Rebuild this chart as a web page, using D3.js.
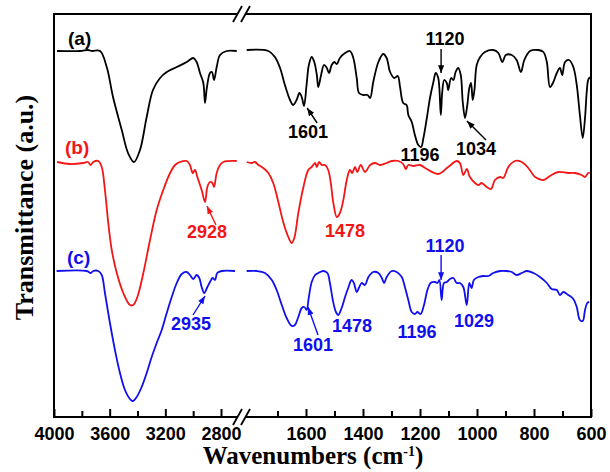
<!DOCTYPE html>
<html>
<head>
<meta charset="utf-8">
<script src="https://cdn.jsdelivr.net/npm/d3@7/dist/d3.min.js"></script>
<style>
  html, body { margin: 0; padding: 0; background: #fff; }
  svg { display: block; }
</style>
</head>
<body>
<div id="chart"></div>
<script>
// FTIR spectra: wavenumber (cm-1) / transmittance (a.u., stacked)
const waveA = [3978, 3813, 3756, 3727, 3669, 3621, 3576, 3513, 3468, 3425, 3382, 3334, 3289, 3238, 3190, 3118, 3046, 2999, 2975, 2951, 2927, 2915, 2901, 2879, 2865, 2850, 2831, 2807, 2759, 2687,
  1808, 1732, 1709, 1691, 1674, 1656, 1645, 1633, 1623, 1615, 1607, 1598, 1590, 1580, 1571, 1562, 1557, 1547, 1537, 1527, 1519, 1510, 1501, 1492, 1481, 1463, 1446, 1434, 1422, 1414, 1399, 1384, 1375, 1364, 1346, 1329, 1317, 1305, 1290, 1278, 1270, 1259, 1247, 1241, 1229, 1218, 1206, 1196, 1188, 1176, 1165, 1153, 1145, 1136, 1127, 1122, 1115, 1106, 1101, 1091, 1083, 1075, 1066, 1057, 1050, 1042, 1034, 1027, 1021, 1015, 1009, 1001, 989, 972, 943, 925, 911, 899, 878, 861, 846, 834, 814, 785, 767, 755, 744, 732, 720, 709, 701, 691, 677, 662, 650, 639, 629, 621, 615, 610, 604];
const transA = [366, 366, 367, 366, 366, 350, 320, 287, 264, 255, 267, 300, 327, 339, 345, 350, 355, 359, 355, 344, 334, 314, 330, 344, 345, 337, 350, 362, 366, 366,
  367, 366, 360, 349, 332, 317, 312, 317, 324, 320, 311, 332, 352, 360, 355, 342, 330, 342, 352, 349, 344, 352, 355, 353, 359, 364, 366, 359, 339, 324, 322, 322, 319, 335, 355, 363, 359, 345, 339, 341, 330, 314, 312, 302, 295, 282, 272, 270, 279, 299, 319, 335, 344, 339, 302, 325, 337, 334, 327, 339, 337, 345, 349, 342, 315, 299, 312, 329, 334, 317, 327, 352, 360, 365, 367, 364, 355, 362, 362, 357, 345, 357, 366, 367, 365, 355, 330, 335, 344, 349, 342, 355, 357, 350, 332, 302, 279, 299, 325, 337, 340];

const waveB = [3978, 3885, 3789, 3756, 3736, 3718, 3682, 3657, 3634, 3610, 3585, 3549, 3502, 3454, 3430, 3401, 3358, 3310, 3262, 3215, 3166, 3130, 3095, 3046, 3023, 3003, 2987, 2970, 2939, 2915, 2898, 2879, 2862, 2850, 2831, 2807, 2783, 2687,
  1808, 1791, 1779, 1767, 1750, 1732, 1715, 1697, 1680, 1662, 1650, 1641, 1627, 1609, 1592, 1580, 1568, 1562, 1554, 1545, 1533, 1522, 1513, 1504, 1492, 1481, 1469, 1457, 1446, 1438, 1428, 1420, 1408, 1393, 1375, 1358, 1340, 1317, 1299, 1276, 1259, 1250, 1241, 1223, 1200, 1182, 1136, 1101, 1071, 1060, 1048, 1036, 1025, 1007, 995, 984, 966, 951, 937, 919, 908, 890, 867, 843, 820, 796, 767, 744, 715, 680, 656, 633, 621, 610, 604];
const transB = [255, 253, 254, 255, 252, 255, 256, 250, 227, 194, 167, 144, 124, 112, 112, 120, 144, 177, 207, 227, 244, 252, 255, 256, 252, 244, 247, 240, 227, 215, 230, 235, 234, 230, 244, 252, 255, 256,
  255, 254, 255, 252, 249, 244, 234, 215, 195, 180, 174, 179, 204, 230, 247, 250, 254, 250, 255, 252, 252, 247, 234, 214, 200, 204, 217, 237, 247, 244, 250, 245, 252, 245, 252, 254, 252, 254, 256, 256, 253, 248, 252, 251, 252, 249, 243, 250, 256, 254, 242, 248, 240, 234, 232, 234, 230, 228, 237, 240, 239, 250, 256, 255, 249, 240, 237, 241, 245, 244, 244, 242, 240, 244, 244];

const waveC = [3981, 3765, 3736, 3718, 3682, 3657, 3634, 3598, 3562, 3526, 3490, 3454, 3434, 3406, 3370, 3334, 3298, 3262, 3226, 3190, 3154, 3118, 3082, 3046, 3023, 2999, 2975, 2956, 2939, 2920, 2898, 2879, 2860, 2843, 2827, 2795, 2699,
  1808, 1773, 1744, 1720, 1703, 1685, 1668, 1650, 1639, 1627, 1615, 1606, 1598, 1590, 1580, 1568, 1557, 1539, 1525, 1516, 1506, 1495, 1487, 1475, 1463, 1452, 1440, 1432, 1422, 1413, 1405, 1393, 1381, 1364, 1346, 1334, 1326, 1317, 1299, 1282, 1264, 1253, 1241, 1229, 1218, 1209, 1198, 1186, 1174, 1163, 1147, 1139, 1132, 1124, 1116, 1106, 1095, 1083, 1071, 1060, 1048, 1036, 1027, 1019, 1011, 995, 978, 960, 943, 919, 896, 878, 861, 843, 825, 802, 779, 755, 738, 720, 709, 697, 680, 662, 650, 639, 629, 621, 613, 606];
const transC = [146, 146, 144, 146, 146, 142, 124, 94, 67, 44, 27, 18, 16, 20, 30, 44, 60, 74, 87, 104, 120, 134, 143, 145, 142, 138, 142, 139, 130, 124, 130, 135, 139, 137, 144, 146, 146,
  146, 146, 144, 137, 127, 112, 99, 91, 92, 100, 109, 110, 107, 120, 135, 142, 144, 146, 144, 134, 117, 105, 102, 109, 120, 129, 137, 134, 125, 130, 134, 132, 140, 145, 144, 139, 134, 140, 146, 145, 140, 130, 117, 105, 103, 105, 103, 112, 127, 134, 135, 134, 137, 117, 134, 135, 138, 139, 134, 134, 130, 112, 134, 129, 137, 140, 141, 141, 144, 146, 146, 145, 142, 144, 146, 144, 140, 134, 128, 127, 122, 125, 122, 118, 110, 97, 96, 107, 114, 115];

const seriesNames = ['(a)', '(b)', '(c)'];
const seriesColors = ['#000000', '#f21616', '#1010ee'];

const leftTicks = [4000, 3600, 3200, 2800];
const leftMinor = [3800, 3400, 3000];
const rightTicks = [1600, 1400, 1200, 1000, 800, 600];
const rightMinor = [1700, 1500, 1300, 1100, 900, 700];

// peak annotations
const peakLabels = ['1601', '1196', '1120', '1034', '2928', '1478', '2935', '1601', '1478', '1196', '1120', '1029'];
const peakSeries = [0, 0, 0, 0, 1, 1, 2, 2, 2, 2, 2, 2];
// arrow heads in data units (wavenumber, transmittance); null = no arrow
const peakArrowWave = [1596, null, 1126, 1035, 2901, null, 2915, 1593, null, null, 1126, null];
const peakArrowTrans = [309, null, 344, 296, 211, null, 121, 110, null, null, 137, null];

const W = 610;
const H = 472;
const plot = { left: 54, right: 591, top: 14, bottom: 417 };
const font = { sans: 'Arial, "Liberation Sans", sans-serif', serif: '"Times New Roman", "Liberation Serif", serif' };

const xLeft = d3.scaleLinear().domain([4000, 2800]).range([54, 221]);
const xRight = d3.scaleLinear().domain([1600, 600]).range([306, 591]);
const x = (w) => (w > 2000 ? xLeft(w) : xRight(w));
const y = d3.scaleLinear().domain([0, 403]).range([plot.bottom, plot.top]);

const svg = d3.select('#chart').append('svg')
  .attr('width', W)
  .attr('height', H);

svg.append('rect')
  .attr('width', W)
  .attr('height', H)
  .attr('fill', '#fff');

// arrow markers, one per colour
const defs = svg.append('defs');
seriesColors.forEach((c, i) => {
  defs.append('marker')
    .attr('id', `head${i}`)
    .attr('viewBox', '0 -4 9 8')
    .attr('refX', 9)
    .attr('refY', 0)
    .attr('markerUnits', 'userSpaceOnUse')
    .attr('markerWidth', 8)
    .attr('markerHeight', 7)
    .attr('orient', 'auto')
    .append('path')
    .attr('d', 'M0,-3.5L9,0L0,3.5Z')
    .attr('fill', c);
});

// spectra
const line = d3.line()
  .x((d) => x(d[0]))
  .y((d) => y(d[1]))
  .curve(d3.curveCatmullRom.alpha(0.5));

const series = [[waveA, transA], [waveB, transB], [waveC, transC]];
series.forEach(([wv, tr], i) => {
  const pts = wv.map((w, k) => [w, tr[k]]);
  const parts = [pts.filter((d) => d[0] > 2000), pts.filter((d) => d[0] < 2000)];
  parts.forEach((p) => {
    svg.append('path')
      .attr('d', line(p))
      .attr('fill', 'none')
      .attr('stroke', seriesColors[i])
      .attr('stroke-width', 1.8)
      .attr('stroke-linejoin', 'round');
  });
});

// series labels
const seriesLabelPos = [[68, 45], [65, 154], [67, 264]];
seriesNames.forEach((n, i) => {
  svg.append('text')
    .attr('x', seriesLabelPos[i][0])
    .attr('y', seriesLabelPos[i][1])
    .attr('font-family', font.sans)
    .attr('font-weight', 'bold')
    .attr('font-size', 19)
    .attr('fill', seriesColors[i])
    .text(n);
});

// peak labels
const peakTextPos = [[308, 138], [420, 161], [445, 45], [476, 155], [207, 238], [345, 237],
  [191, 330], [313, 351], [352, 332], [417, 338], [445, 252], [474, 327]];
const peakTail = [[10, 15], null, [0, -24], [19, 19], [9, 19], null, [-12, 19], [10, 28], null, null, [0, -25], null];
peakLabels.forEach((lab, i) => {
  const s = peakSeries[i];
  svg.append('text')
    .attr('x', peakTextPos[i][0])
    .attr('y', peakTextPos[i][1])
    .attr('text-anchor', 'middle')
    .attr('font-family', font.sans)
    .attr('font-weight', 'bold')
    .attr('font-size', 18)
    .attr('fill', seriesColors[s])
    .text(lab);
  if (peakArrowWave[i] !== null) {
    const hx = x(peakArrowWave[i]);
    const hy = y(peakArrowTrans[i]);
    svg.append('line')
      .attr('x1', hx + peakTail[i][0])
      .attr('y1', hy + peakTail[i][1])
      .attr('x2', hx)
      .attr('y2', hy)
      .attr('stroke', seriesColors[s])
      .attr('stroke-width', 1.4)
      .attr('marker-end', `url(#head${s})`);
  }
});

// frame
svg.append('rect')
  .attr('x', plot.left)
  .attr('y', plot.top)
  .attr('width', plot.right - plot.left)
  .attr('height', plot.bottom - plot.top)
  .attr('fill', 'none')
  .attr('stroke', '#000')
  .attr('stroke-width', 2);

// bottom axes (ticks pointing into the plot)
function bottomAxis(scale, ticks, size, labels) {
  const g = svg.append('g')
    .attr('transform', `translate(0,${plot.bottom})`)
    .call(d3.axisBottom(scale)
      .tickValues(ticks)
      .tickSizeInner(-size)
      .tickSizeOuter(0)
      .tickPadding(10)
      .tickFormat(labels ? d3.format('d') : ''));
  g.select('.domain').remove();
  g.selectAll('line').attr('stroke', '#000').attr('stroke-width', 2);
  g.selectAll('text')
    .attr('font-family', font.sans)
    .attr('font-weight', 'bold')
    .attr('font-size', 18)
    .attr('fill', '#000');
}
bottomAxis(xLeft, leftTicks, 8, true);
bottomAxis(xLeft, leftMinor, 6, false);
bottomAxis(xRight, rightTicks, 8, true);
bottomAxis(xRight, rightMinor, 6, false);

// axis break marks
[plot.top, plot.bottom].forEach((yy) => {
  svg.append('rect')
    .attr('x', 237)
    .attr('y', yy - 3)
    .attr('width', 9)
    .attr('height', 6)
    .attr('fill', '#fff');
  [0, 8].forEach((off) => {
    svg.append('line')
      .attr('x1', 233 + off)
      .attr('y1', yy + 8)
      .attr('x2', 242 + off)
      .attr('y2', yy - 8)
      .attr('stroke', '#000')
      .attr('stroke-width', 1.8);
  });
});

// axis titles
svg.append('text')
  .attr('transform', `translate(33,${(plot.top + plot.bottom) / 2 - 8}) rotate(-90)`)
  .attr('text-anchor', 'middle')
  .attr('font-family', font.serif)
  .attr('font-weight', 'bold')
  .attr('font-size', 26)
  .attr('fill', '#000')
  .text('Transmittance (a.u.)');

const xt = svg.append('text')
  .attr('x', 313)
  .attr('y', 464)
  .attr('text-anchor', 'middle')
  .attr('font-family', font.serif)
  .attr('font-weight', 'bold')
  .attr('font-size', 25)
  .attr('fill', '#000');
xt.append('tspan').text('Wavenumbers (cm');
xt.append('tspan').attr('dy', -8).attr('font-size', 14).text('-1');
xt.append('tspan').attr('dy', 8).text(')');
</script>
</body>
</html>
